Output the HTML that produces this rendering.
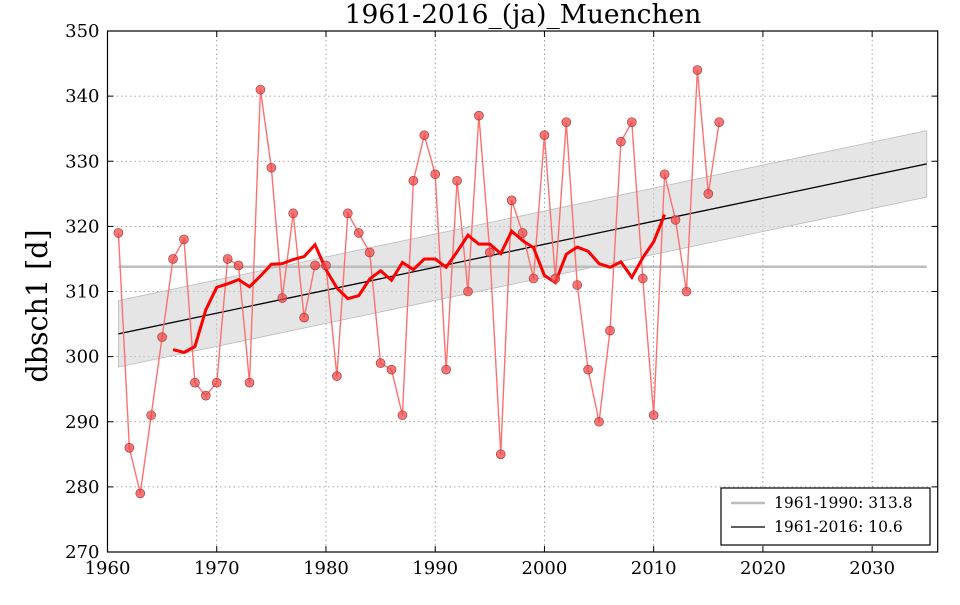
<!DOCTYPE html>
<html><head><meta charset="utf-8"><style>
body{margin:0;background:#fff;}
svg text{font-family:"DejaVu Serif","Liberation Serif",serif;}
</style></head><body>
<svg id="c" width="960" height="600" xmlns="http://www.w3.org/2000/svg"></svg>
<script>
const years=[];for(let y=1961;y<=2016;y++)years.push(y);
const values=[319,286,279,291,303,315,318,296,294,296,315,314,296,341,329,309,322,306,314,314,297,322,319,316,299,298,291,327,334,328,298,327,310,337,316,285,324,319,312,334,312,336,311,298,290,304,333,336,312,291,328,321,310,344,325,336];
const refMean=313.8;
const trendStart=[1961,303.5];
const trendEnd=[2035,329.6];
const bandHalf=5.1;
const xTicks=[1960,1970,1980,1990,2000,2010,2020,2030];
const yTicks=[270,280,290,300,310,320,330,340,350];
const legendLabels=["1961-1990: 313.8","1961-2016: 10.6"];

const L=107.5,R=937.7,T=31,B=552;
const x=v=>L+(v-1960)*(R-L)/76;
const y=v=>B-(v-270)*(B-T)/80;
const svg=document.getElementById('c');
const NS='http://www.w3.org/2000/svg';
function el(t,a,p){const e=document.createElementNS(NS,t);for(const k in a)e.setAttribute(k,a[k]);(p||svg).appendChild(e);return e;}

xTicks.forEach(t=>{const g=el('line',{x1:x(t),x2:x(t),y1:T,y2:B,stroke:'#888','stroke-dasharray':'1.5,3','stroke-width':0.8});
});
yTicks.forEach(t=>{const g=el('line',{x1:L,x2:R,y1:y(t),y2:y(t),stroke:'#888','stroke-dasharray':'1.5,3','stroke-width':0.8});
});

const b=el('polygon',{points:[[x(trendStart[0]),y(trendStart[1]+bandHalf)],[x(trendEnd[0]),y(trendEnd[1]+bandHalf)],[x(trendEnd[0]),y(trendEnd[1]-bandHalf)],[x(trendStart[0]),y(trendStart[1]-bandHalf)]].map(p=>p.join(',')).join(' '),fill:'#d3d3d3','fill-opacity':0.6,stroke:'#bbb','stroke-width':0.8});


const rm=el('line',{x1:x(1961),x2:x(2035),y1:y(refMean),y2:y(refMean),stroke:'#bdbdbd','stroke-width':2.5});


const tl=el('line',{x1:x(trendStart[0]),y1:y(trendStart[1]),x2:x(trendEnd[0]),y2:y(trendEnd[1]),stroke:'#000','stroke-width':1.3});


const dl=el('polyline',{points:years.map((yr,i)=>x(yr)+','+y(values[i])).join(' '),fill:'none',stroke:'#ff7070','stroke-width':1.4});


const ma=[];for(let i=5;i<values.length-5;i++){let s=0;for(let j=i-5;j<=i+5;j++)s+=values[j];ma.push(x(years[i])+','+y(s/11));}
const ml=el('polyline',{points:ma.join(' '),fill:'none',stroke:'#ff0000','stroke-width':3});


years.forEach((yr,i)=>{const c=el('circle',{cx:x(yr),cy:y(values[i]),r:4.5,fill:'#f04848','fill-opacity':0.75,stroke:'#a33','stroke-width':0.6});
});

const f=el('rect',{x:L,y:T,width:R-L,height:B-T,fill:'none',stroke:'#000','stroke-width':1.2});


xTicks.forEach(t=>{el('line',{x1:x(t),x2:x(t),y1:B,y2:B-6,stroke:'#000'});el('line',{x1:x(t),x2:x(t),y1:T,y2:T+6,stroke:'#000'});
const tx=el('text',{x:x(t),y:B+22,'text-anchor':'middle','font-size':18});tx.textContent=t;
});
yTicks.forEach(t=>{el('line',{x1:L,x2:L+6,y1:y(t),y2:y(t),stroke:'#000'});el('line',{x1:R,x2:R-6,y1:y(t),y2:y(t),stroke:'#000'});
const tx=el('text',{x:L-8,y:y(t)+6,'text-anchor':'end','font-size':18});tx.textContent=t;
});

const ti=el('text',{x:523,y:23,'text-anchor':'middle','font-size':26.5});ti.textContent='1961-2016_(ja)_Muenchen';

const yt=el('text',{x:47,y:306,'text-anchor':'middle','font-size':28.5,transform:'rotate(-90 47 306)'});yt.textContent='dbsch1 [d]';


const lg=el('g',{});
el('rect',{x:721,y:488,width:209,height:57,fill:'#fff',stroke:'#000','stroke-width':1.2},lg);
el('line',{x1:731,x2:765,y1:503,y2:503,stroke:'#bdbdbd','stroke-width':2.5},lg);
el('line',{x1:731,x2:765,y1:527,y2:527,stroke:'#000','stroke-width':1.3},lg);
legendLabels.forEach((s,i)=>{const t=el('text',{x:774,y:508+24*i,'font-size':15.5},lg);t.textContent=s;
});
</script>
</body></html>
